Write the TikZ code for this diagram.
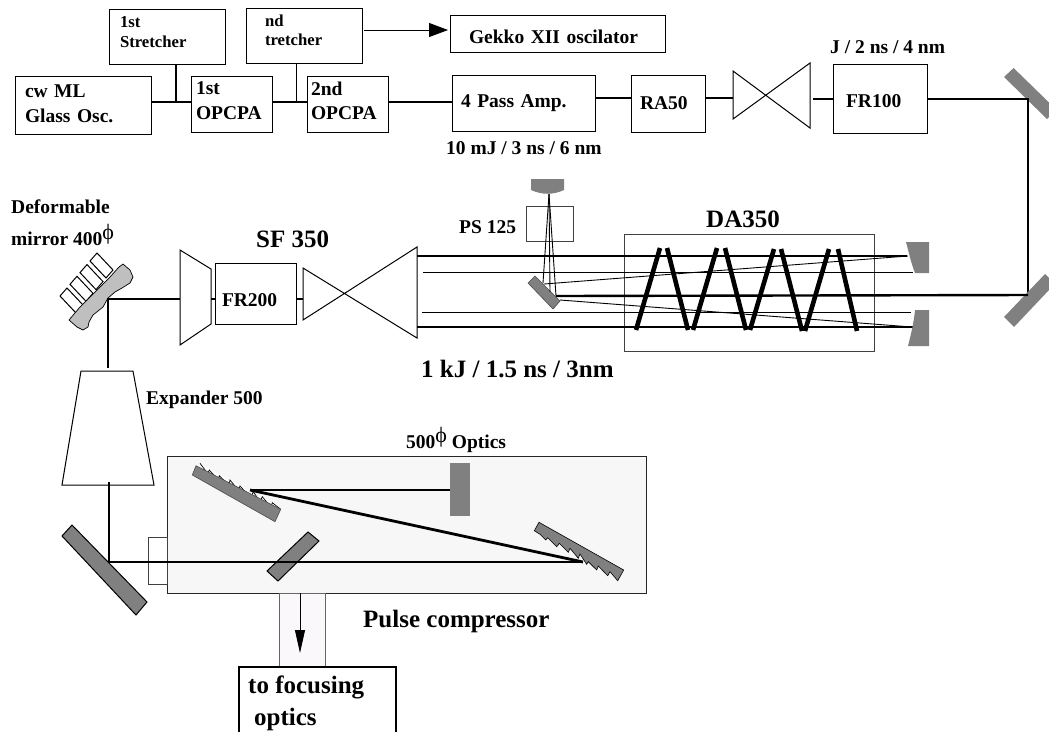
\documentclass[tikz,border=0pt]{standalone}
\usepackage{fontspec}
\setmainfont{Liberation Serif}
\usetikzlibrary{arrows.meta}
\definecolor{mirrorgray}{gray}{0.5}
\definecolor{blobgray}{gray}{0.75}
\definecolor{roomgray}{gray}{0.97}
\definecolor{tubepink}{RGB}{251,248,252}
\tikzset{
  box/.style n args={3}{draw, line width=1pt, anchor=north west, outer sep=0pt, inner xsep=#3pt, inner ysep=0pt,
    minimum width=#1pt, minimum height=#2pt, text width={(#1-2*#3)*1pt}, align=left,
    font=\bfseries\fontsize{19.5}{24.5}\selectfont},
  smallbox/.style={font=\bfseries\fontsize{16.7}{19.5}\selectfont},
  lab/.style={anchor=base west, inner sep=0pt, font=\bfseries\fontsize{19.5}{24}\selectfont},
  labbig/.style={anchor=base west, inner sep=0pt, font=\bfseries\fontsize{25}{31}\selectfont},
  beam/.style={line width=2.4pt},
  thinbeam/.style={line width=0.9pt},
  thickzig/.style={line width=4.6pt},
  optic/.style={line width=1pt},
  mirror/.style={fill=mirrorgray, draw=black!70, line width=0.6pt}
}
\newcommand{\phisup}{\raisebox{6pt}{\normalfont\fontsize{22}{22}\selectfont ϕ}}
\begin{document}
\begin{tikzpicture}[x=1pt, y=-1pt]
  \useasboundingbox (0,0) rectangle (1049,732);
  % front end
  \node[box={136}{58}{10}, text depth=27pt] (cwml) at (15,76) {cw ML\\Glass Osc.};
  \node[box={116}{55}{11}, smallbox, text depth=28.3pt] (strA) at (109,9) {1st\\Stretcher};
  \node[box={116}{55}{19}, smallbox, text depth=30.3pt] (strB) at (246,8) {nd\\tretcher};
  \node[box={81}{56}{5}, text depth=31pt] (opcpaA) at (191,76) {1st\\OPCPA};
  \node[box={81}{56}{4}, text depth=31pt] (opcpaB) at (307,76) {2nd\\OPCPA};
  \node[box={143}{56}{9}] (pass) at (452,75) {4 Pass Amp.};
  \node[box={215}{37}{19}, text height=23pt, text depth=4pt] (gekko) at (450,15) {Gekko XII oscilator};
  \node[box={74}{57}{9}] (ra) at (631,75) {RA50};
  \node[box={94}{69}{13}, text height=21pt, text depth=4pt] (frA) at (833,64) {FR100};
  \coordinate (juncA) at (176,102);
  \coordinate (juncB) at (296,102);
  \coordinate (bowA) at (733,98);
  \coordinate (bowAout) at (813,99);
  \coordinate (turnA) at (1028,99);
  \coordinate (turnB) at (1028,295);
  \coordinate (gekkotip) at (448,30);
  \coordinate (strout) at (364,30);
  \draw[beam] (cwml.east |- juncA) -- (juncA) -- (opcpaA.west |- juncA);
  \draw[beam] (opcpaA.east |- juncB) -- (juncB) -- (opcpaB.west |- juncB);
  \draw[beam] (opcpaB.east |- juncB) -- (pass.west |- juncB);
  \draw[beam] (strA.south -| juncA) -- (juncA);
  \draw[thinbeam] (strB.south -| juncB) -- (juncB);
  \draw[beam] (pass.east |- bowA) -- (ra.west |- bowA);
  \draw[beam] (ra.east |- bowA) -- (bowA);
  \draw[beam] (bowAout) -- (frA.west |- bowAout);
  \draw[thinbeam, -{Triangle[length=19pt,width=14pt]}] (strout) -- (gekkotip);
  \draw[optic] (733,71) -- (810,128) -- (810,63) -- (733,119) -- cycle;
  \fill[mirrorgray] (1013.6,68) -- (1049,102.5) -- (1049,117) -- (1047,119) -- (1004,77) -- cycle;
  \draw[beam] (frA.east |- turnA) -- (turnA) -- (turnB);
  \fill[mirrorgray] (1045,274) -- (1049,278) -- (1049,290) -- (1014,327) -- (1004,317) -- cycle;
  \node[lab] (lbltenmj) at (446,154) {10 mJ / 3 ns / 6 nm};
  \node[lab] (lblj) at (830,53) {J / 2 ns / 4 nm};
  % main amplifier
  \node[draw=black!75, anchor=north west, outer sep=0pt, minimum width=250pt, minimum height=117pt, line width=0.8pt] (da) at (624,234) {};
  \node[labbig] (lblda) at (706,227) {DA350};
  \node[draw=black!75, anchor=north west, outer sep=0pt, minimum width=47pt, minimum height=35pt, line width=0.7pt] (ps) at (526,206) {};
  \node[lab] (lblps) at (459,233) {PS 125};
  \coordinate (beamtopL) at (417,256);
  \coordinate (beamtopR) at (907,256);
  \coordinate (beambotL) at (417,327);
  \coordinate (beambotR) at (913,327);
  \draw[beam] (beamtopL) -- (beamtopR);
  \draw[beam] (beambotL) -- (beambotR);
  \draw[thinbeam] (423,272) -- (913,272);
  \draw[thinbeam] (422,312) -- (911,312);
  \draw[beam] (556,296) -- (turnB);
  \draw[thinbeam] (544,284) -- (908,256);
  \draw[thinbeam] (560,300) -- (912,327);
  \foreach \xa/\ya/\xb/\yb in {636/330/660/248, 667/248/688/330, 693/330/717/248, 725/248/746/330,
      750/330/774/249, 781/249/802/331, 805/331/829/249, 838/249/857/331} {
    \draw[thickzig] (\xa,\ya) -- (\xb,\yb);
  }
  \fill[mirrorgray] (531,179) -- (564,179) -- (564,190) .. controls (553,195) and (542,195) .. (531,190) -- cycle;
  \draw[mirror] (535,276) -- (528,283) -- (553,309) -- (560,301) -- cycle;
  \draw[thinbeam] (549,194) -- (543,283);
  \draw[thinbeam] (549,194) -- (550,292);
  \draw[thinbeam] (549,194) -- (556,296);
  \fill[mirrorgray] (906,242) -- (929,242) -- (929,273) -- (915,273) .. controls (911,263) and (909,253) .. (906,242) -- cycle;
  \fill[mirrorgray] (915,310) -- (929,310) -- (929,346) -- (908,346) .. controls (911,334) and (914,322) .. (915,310) -- cycle;
  \node[labbig] (lblkj) at (421,377) {1 kJ / 1.5 ns / 3nm};
  % spatial filter and deformable mirror
  \node[box={81}{61}{7}, text height=29pt, text depth=4pt] (frB) at (215,263) {FR200};
  \node[labbig] (lblsf) at (256,247) {SF 350};
  \coordinate (sfin) at (180,299);
  \coordinate (sfout) at (211,299);
  \coordinate (bowB) at (303,299);
  \coordinate (dmcorner) at (108,299);
  \coordinate (exptop) at (108,368);
  \draw[optic] (180,250) -- (211,269) -- (211,324) -- (180,345) -- cycle;
  \draw[optic] (303,268) -- (417,338) -- (417,247) -- (303,320) -- cycle;
  \foreach \dx/\dy in {0/0, 10/-11.7, 20/-23.4, 30/-35} {
    \draw[line width=1pt, shift={(\dx,\dy)}] (60,296) -- (67,288) -- (83,305) -- (76,313) -- cycle;
  }
  \draw[fill=blobgray, line width=0.7pt] (119,267) -- (123,264) -- (130,270) -- (133,277) -- (130,283) -- (122,288) -- (115,292)
    -- (108,298) -- (103,307) -- (93,315) -- (89,322) -- (88,327) -- (83,330) -- (77,327) -- (69,320) -- (80,307) -- (97,290) -- (110,277) -- cycle;
  \draw[beam] (sfin) -- (dmcorner) -- (exptop);
  \draw[beam] (sfout) -- (frB.west |- sfout);
  \draw[beam] (frB.east |- sfout) -- (bowB);
  \node[lab] (lbldefa) at (11,213) {Deformable};
  \node[lab] (lbldefb) at (11,245) {mirror 400\phisup};
  % expander and compressor
  \draw[optic] (81,371) -- (133,371) -- (154,485) -- (62,485) -- cycle;
  \node[lab] (lblexp) at (146,404) {Expander 500};
  \node[draw=black!85, fill=roomgray, anchor=north west, outer sep=0pt, minimum width=479pt, minimum height=137pt, line width=0.8pt] (room) at (167,456) {};
  \node[draw=black!75, anchor=north east, outer sep=0pt, minimum width=19pt, minimum height=47pt, line width=0.7pt] (port) at (167,537) {};
  \node[lab] (lblopt) at (406,448) {500\phisup\ Optics};
  \draw[mirror, draw=black, line width=1pt] (72,525) -- (62,536) -- (136,615) -- (147,602) -- cycle;
  \fill[mirrorgray] (450,463) rectangle (470,516);
  % gratings
  \draw[fill=white, line width=0.7pt] (200,463.3) -- (207.7,473.3) -- (209.3,470) -- (218.3,480) -- (219.3,475.7) -- (229,485) -- (230,480)
    -- (238.3,490) -- (240,486) -- (250.7,497.7) -- (253.3,491.7) -- (260,501.7) -- (262.3,496.7) -- (271,507.3) -- (272.3,502.7) -- (280.7,509.3);
  \draw[mirror] (196,465.7) -- (192.3,475) -- (275,521.7) -- (280.7,509.3) -- cycle;
  \draw[fill=mirrorgray, draw=black, line width=0.6pt] (539,522.3) -- (534.3,530.7) -- (540,534.3) -- (545.7,540) -- (547.7,537.7) -- (556.7,546.7) -- (559.3,543.3)
    -- (568.3,552.3) -- (570,548.3) -- (578.3,558.3) -- (580,554) -- (586.7,564.3) -- (588.3,561.7) -- (596.7,570) -- (598.3,566) -- (607.7,575.7) -- (610,571.7)
    -- (617.7,580.7) -- (623.7,570) -- cycle;
  \draw[mirror, draw=black, line width=1pt] (308,532) -- (319,541) -- (278,581) -- (267,571) -- cycle;
  \coordinate (expout) at (109,482);
  \coordinate (turnC) at (109,562);
  \coordinate (grA) at (250,490);
  \coordinate (grB) at (583,562);
  \coordinate (mirC) at (450,490);
  \draw[beam] (expout) -- (turnC) -- (grB);
  \draw[beam] (grA) -- (mirC);
  \draw[line width=2.8pt] (grA) -- (grB);
  % output
  \node[draw=black!60, fill=tubepink, anchor=north west, outer sep=0pt, minimum width=46pt, minimum height=73pt, line width=0.8pt] (tube) at (279,593) {};
  \coordinate (tubein) at (300,593);
  \coordinate (tubetip) at (300,653);
  \draw[thinbeam, -{Triangle[length=23pt,width=10pt]}] (tubein) -- (tubetip);
  \draw[line width=2.4pt] (239,732) -- (239,667) -- (396,667) -- (396,732);
  \node[labbig] (lblfoca) at (248,693) {to focusing};
  \node[labbig] (lblfocb) at (254,725) {optics};
  \node[labbig] (lblpc) at (363,627) {Pulse compressor};
\end{tikzpicture}
\end{document}
